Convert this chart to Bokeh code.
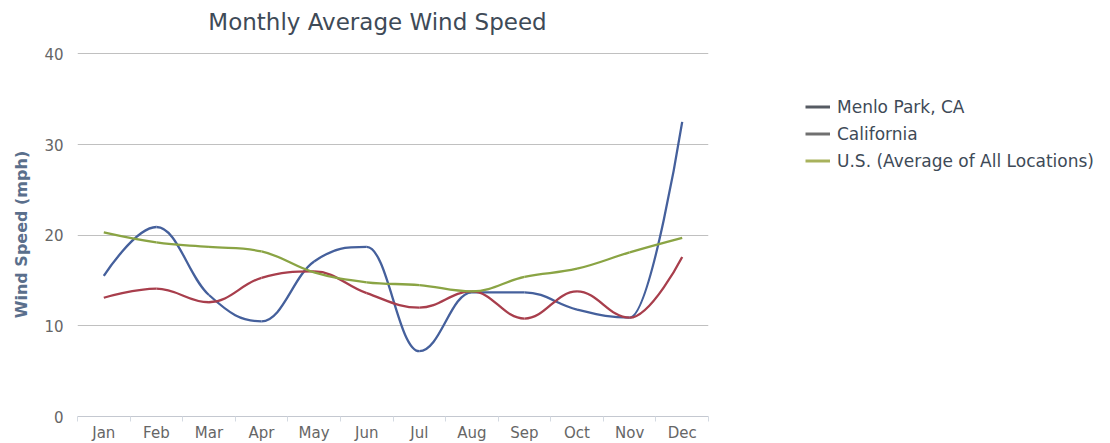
from bokeh.plotting import figure
from bokeh.models import Range1d, FixedTicker, Legend, LegendItem, ColumnDataSource, Label
from bokeh.embed import file_html
from bokeh.resources import INLINE

# Monthly average wind speed (mph)
months = ["Jan", "Feb", "Mar", "Apr", "May", "Jun",
          "Jul", "Aug", "Sep", "Oct", "Nov", "Dec"]
menlo_park = [15.5, 20.9, 13.4, 10.5, 17.1, 18.7, 7.2, 13.7, 13.7, 11.8, 10.9, 32.5]
california = [13.1, 14.1, 12.6, 15.3, 16.0, 13.6, 12.0, 13.8, 10.8, 13.8, 10.9, 17.6]
us_average = [20.3, 19.2, 18.7, 18.2, 15.9, 14.8, 14.5, 13.8, 15.4, 16.3, 18.1, 19.7]

series_names = ["Menlo Park, CA", "California", "U.S. (Average of All Locations)"]
y_ticks = [0, 10, 20, 30, 40]

FONT = "DejaVu Sans"


def spline_segments(xs, ys, smoothing=1.5):
    """Cubic bezier segments through the points (Highcharts-style spline)."""
    denom = smoothing + 1
    n = len(xs)
    left = [None] * n
    right = [None] * n
    for i in range(1, n - 1):
        lx, ly = xs[i - 1], ys[i - 1]
        nx, ny = xs[i + 1], ys[i + 1]
        x, y = xs[i], ys[i]
        lcx = (smoothing * x + lx) / denom
        lcy = (smoothing * y + ly) / denom
        rcx = (smoothing * x + nx) / denom
        rcy = (smoothing * y + ny) / denom
        if rcx != lcx:
            corr = ((rcy - lcy) * (rcx - x)) / (rcx - lcx) + y - rcy
            lcy += corr
            rcy += corr
        if lcy > ly and lcy > y:
            lcy = max(ly, y)
            rcy = 2 * y - lcy
        elif lcy < ly and lcy < y:
            lcy = min(ly, y)
            rcy = 2 * y - lcy
        if rcy > ny and rcy > y:
            rcy = max(ny, y)
            lcy = 2 * y - rcy
        elif rcy < ny and rcy < y:
            rcy = min(ny, y)
            lcy = 2 * y - rcy
        left[i] = (lcx, lcy)
        right[i] = (rcx, rcy)
    seg = dict(x0=[], y0=[], x1=[], y1=[], cx0=[], cy0=[], cx1=[], cy1=[])
    for i in range(1, n):
        c0 = right[i - 1] or (xs[i - 1], ys[i - 1])
        c1 = left[i] or (xs[i], ys[i])
        seg["x0"].append(xs[i - 1]); seg["y0"].append(ys[i - 1])
        seg["x1"].append(xs[i]); seg["y1"].append(ys[i])
        seg["cx0"].append(c0[0]); seg["cy0"].append(c0[1])
        seg["cx1"].append(c1[0]); seg["cy1"].append(c1[1])
    return seg


p = figure(frame_width=631, frame_height=364,
           output_backend="svg", toolbar_location=None,
           x_range=Range1d(0.5, 12.5), y_range=Range1d(0, 40.15),
           min_border_left=77, min_border_right=402,
           min_border_top=52, min_border_bottom=27)
p.outline_line_color = None
p.background_fill_color = "white"
p.border_fill_color = "white"

# chart title, placed in the panel above the plot area
title = Label(x=300, y=31, x_units="screen", y_units="screen",
              text="Monthly Average Wind Speed", text_align="center",
              text_baseline="alphabetic", text_font=FONT,
              text_font_size="23px", text_color="#3e4a57")
p.add_layout(title, "above")

# axes
xpos = list(range(1, len(months) + 1))
p.xaxis.ticker = FixedTicker(ticks=xpos, minor_ticks=[i + 0.5 for i in range(0, 13)])
p.xaxis.major_label_overrides = {i: m for i, m in zip(xpos, months)}
p.xaxis.major_tick_line_color = None
p.xaxis.major_tick_out = 0
p.xaxis.major_tick_in = 0
p.xaxis.minor_tick_in = 0
p.xaxis.minor_tick_out = 5
p.xaxis.minor_tick_line_color = "#d4dae2"
p.xaxis.axis_line_color = "#c4c8d0"
p.xaxis.major_label_standoff = 2
p.xaxis.major_label_text_font = FONT
p.xaxis.major_label_text_font_size = "15px"
p.xaxis.major_label_text_color = "#666666"

p.yaxis.ticker = FixedTicker(ticks=y_ticks)
p.yaxis.axis_line_color = None
p.yaxis.major_tick_line_color = None
p.yaxis.major_tick_out = 0
p.yaxis.major_tick_in = 0
p.yaxis.minor_tick_line_color = None
p.yaxis.major_label_standoff = 14
p.yaxis.major_label_text_font = FONT
p.yaxis.major_label_text_font_size = "15px"
p.yaxis.major_label_text_color = "#666666"
p.yaxis.axis_label = "Wind Speed (mph)"
p.yaxis.axis_label_text_font = FONT
p.yaxis.axis_label_text_font_size = "16px"
p.yaxis.axis_label_text_font_style = "bold"
p.yaxis.axis_label_text_color = "#5a6f8c"
p.yaxis.axis_label_standoff = 10

p.xgrid.grid_line_color = None
p.ygrid.ticker = FixedTicker(ticks=y_ticks[1:])
p.ygrid.grid_line_color = "#c0c0c0"
p.ygrid.grid_line_width = 1

# series
colors = ["#45609c", "#a83e4c", "#8aa444"]
legend_colors = ["#565b63", "#707070", "#a8b25c"]
xs = [float(v) for v in xpos]
for vals, col in zip([menlo_park, california, us_average], colors):
    src = ColumnDataSource(spline_segments(xs, vals))
    p.bezier(x0="x0", y0="y0", x1="x1", y1="y1", cx0="cx0", cy0="cy0",
             cx1="cx1", cy1="cy1", source=src, line_color=col, line_width=2.3)

# legend entries (swatch renderers sit below the visible y range)
items = []
for name, col in zip(series_names, legend_colors):
    r = p.line(x=[1, 2], y=[-100, -100], line_color=col, line_width=3)
    items.append(LegendItem(label=name, renderers=[r]))
legend = Legend(items=items, location=(97, 242), orientation="vertical",
                padding=0, margin=0, spacing=0, border_line_color=None,
                background_fill_alpha=0, glyph_width=25, glyph_height=27,
                label_height=27, label_standoff=7,
                label_text_font=FONT, label_text_font_size="17px",
                label_text_color="#3e4a57")
p.add_layout(legend, "right")

open("out.html", "w").write(file_html(p, INLINE))
